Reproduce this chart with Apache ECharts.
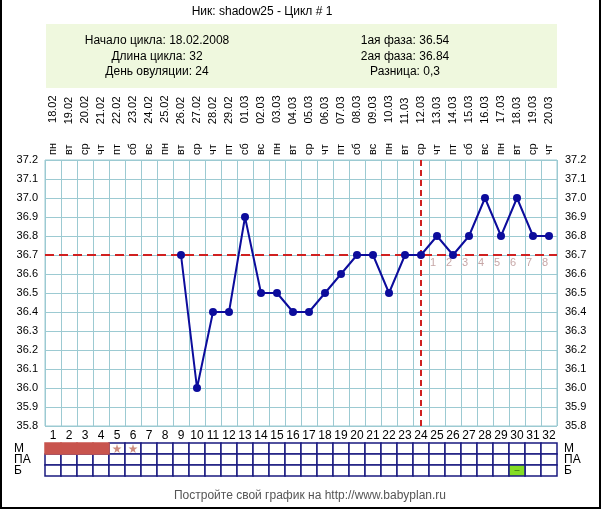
<!DOCTYPE html>
<html><head><meta charset="utf-8">
<script src="https://cdn.jsdelivr.net/npm/echarts@6/dist/echarts.min.js"></script>
<style>html,body{margin:0;padding:0;background:#fff}#c{width:602px;height:510px}</style>
</head><body><div id="c"></div>
<script>
const days = ['1','2','3','4','5','6','7','8','9','10','11','12','13','14','15','16','17','18','19','20','21','22','23','24','25','26','27','28','29','30','31','32'];
const dates = ['18.02','19.02','20.02','21.02','22.02','23.02','24.02','25.02','26.02','27.02','28.02','29.02','01.03','02.03','03.03','04.03','05.03','06.03','07.03','08.03','09.03','10.03','11.03','12.03','13.03','14.03','15.03','16.03','17.03','18.03','19.03','20.03'];
const weekdays = ['пн','вт','ср','чт','пт','сб','вс','пн','вт','ср','чт','пт','сб','вс','пн','вт','ср','чт','пт','сб','вс','пн','вт','ср','чт','пт','сб','вс','пн','вт','ср','чт'];
const temps = [null,null,null,null,null,null,null,null,36.7,36.0,36.4,36.4,36.9,36.5,36.5,36.4,36.4,36.5,36.6,36.7,36.7,36.5,36.7,36.7,36.8,36.7,36.8,37.0,36.8,37.0,36.8,36.8];
const coverLine = 36.7;
const ovulationDay = '24';
const phaseDays = ['25','26','27','28','29','30','31','32'];
const phaseLabels = ['1','2','3','4','5','6','7','8'];
const yTicks = [35.8,37.2,0.1];
const tableRows = ['Б','ПА','М'];
const mensesDays = ['1','2','3','4'];
const spottingDays = ['5','6'];
const paDays = ['6','7','8','9','10','11','12','13','14','15','16','17','18','19','20','21','22','23','24','25','26','27','28','29','30','31'];
const bDays = ['30'];
const infoLeft = ['Начало цикла: 18.02.2008','Длина цикла: 32','День овуляции: 24'];
const infoRight = ['1ая фаза: 36.54','2ая фаза: 36.84','Разница: 0,3'];
const titleText = 'Ник: shadow25 - Цикл # 1';
const footerText = 'Постройте свой график на http://www.babyplan.ru';

const FONT = '"Liberation Sans", Arial, sans-serif';
const GRIDC = '#9ccad2';
const NAVY = '#1a1a80';

const cells = [];
days.forEach(d => {
  cells.push([d, 'М', mensesDays.includes(d) ? 1 : 0]);
  cells.push([d, 'ПА', 0]);
  cells.push([d, 'Б', bDays.includes(d) ? 2 : 0]);
});

const chart = echarts.init(document.getElementById('c'), null, {renderer:'canvas'});
const graphics = [
  {type:'rect', shape:{x:46,y:24,width:511,height:64}, style:{fill:'#eff8de'}, z:0},
  {type:'text', x:262, y:12, style:{text:titleText, font:'12px '+FONT, fill:'#000', textAlign:'center', textVerticalAlign:'middle'}},
  {type:'text', x:310, y:496, style:{text:footerText, font:'12px '+FONT, fill:'#555', textAlign:'center', textVerticalAlign:'middle'}},
  {type:'polyline', shape:{points:[[1,0],[1,508],[600,508],[600,0]]}, style:{stroke:'#000', lineWidth:2, fill:null}}
];
infoLeft.forEach((t,i)=>graphics.push({type:'text', x:157, y:41+i*15.5, style:{text:t, font:'12px '+FONT, fill:'#000', textAlign:'center', textVerticalAlign:'middle'}}));
infoRight.forEach((t,i)=>graphics.push({type:'text', x:405, y:41+i*15.5, style:{text:t, font:'12px '+FONT, fill:'#000', textAlign:'center', textVerticalAlign:'middle'}}));

const starPath = 'path://M50,0 L61,35 L98,35 L68,57 L79,91 L50,70 L21,91 L32,57 L2,35 L39,35 Z';

chart.setOption({
  animation:false,
  textStyle:{fontFamily:FONT},
  graphic: graphics,
  grid:[
    {left:45, right:45, top:160, height:266, show:true, borderColor:GRIDC, borderWidth:1},
    {left:45, right:45, top:443, height:33}
  ],
  xAxis:[
    {type:'category', gridIndex:0, data:days, boundaryGap:true, position:'bottom',
     axisLine:{show:false}, axisTick:{show:false},
     axisLabel:{color:'#000', fontSize:12, margin:4, interval:0, fontFamily:FONT},
     splitLine:{show:true, interval:0, lineStyle:{color:GRIDC, width:1}}},
    {type:'category', gridIndex:0, data:days, boundaryGap:true, position:'top',
     axisLine:{show:false}, axisTick:{show:false},
     axisLabel:{color:'#000', fontSize:11, margin:5, interval:0, rotate:-90, fontFamily:FONT,
       formatter:(v,i)=>'{w|'+weekdays[i]+'}{d|'+dates[i]+'}',
       rich:{w:{fontSize:11, fontFamily:FONT, color:'#000'}, d:{fontSize:11, fontFamily:FONT, color:'#000', padding:[0,0,0,20]}}}},
    {type:'category', gridIndex:1, data:days, boundaryGap:true,
     axisLine:{show:false}, axisTick:{show:false}, axisLabel:{show:false}, splitLine:{show:false}}
  ],
  yAxis:[
    {type:'value', gridIndex:0, min:yTicks[0], max:yTicks[1], interval:yTicks[2], position:'left',
     axisLine:{show:false}, axisTick:{show:false},
     axisLabel:{color:'#000', fontSize:11, margin:7, formatter:v=>v.toFixed(1), fontFamily:FONT},
     splitLine:{show:true, lineStyle:{color:GRIDC, width:1}}},
    {type:'value', gridIndex:0, min:yTicks[0], max:yTicks[1], interval:yTicks[2], position:'right',
     axisLine:{show:false}, axisTick:{show:false},
     axisLabel:{color:'#000', fontSize:11, margin:8, formatter:v=>v.toFixed(1), fontFamily:FONT},
     splitLine:{show:false}},
    {type:'category', gridIndex:1, data:tableRows, position:'left',
     axisLine:{show:false}, axisTick:{show:false}, splitLine:{show:false},
     axisLabel:{color:'#000', fontSize:12, margin:31, align:'left', interval:0, fontFamily:FONT}},
    {type:'category', gridIndex:1, data:tableRows, position:'right',
     axisLine:{show:false}, axisTick:{show:false}, splitLine:{show:false},
     axisLabel:{color:'#000', fontSize:12, margin:7, align:'left', interval:0, fontFamily:FONT}}
  ],
  series:[
    {type:'line', xAxisIndex:0, yAxisIndex:0, data:temps, connectNulls:false,
     symbol:'circle', symbolSize:8, showSymbol:true,
     lineStyle:{color:'#0c0c9c', width:2}, itemStyle:{color:'#0c0c9c'}, z:5,
     markLine:{silent:true, symbol:'none', label:{show:false},
       data:[
         {yAxis:coverLine, lineStyle:{color:'#d02020', type:[9,5], width:2}},
         {xAxis:ovulationDay, lineStyle:{color:'#d02020', type:[6,4], width:2}}
       ]}},
    {type:'scatter', xAxisIndex:0, yAxisIndex:0, symbolSize:0, z:4,
     data:phaseDays.map((d,i)=>({value:[d,coverLine], name:phaseLabels[i]})),
     label:{show:true, position:'inside', offset:[-4,8], formatter:p=>p.name, color:'#b89090', fontSize:11, fontFamily:FONT}},
    {type:'custom', xAxisIndex:2, yAxisIndex:2, data:cells, z:2,
     renderItem:(params, api)=>{
       const p = api.coord([api.value(0), api.value(1)]);
       const s = api.size([1,1]);
       const k = api.value(2);
       const fill = k===1 ? '#c8544e' : (k===2 ? '#84dc24' : '#fff');
       const stroke = k===1 ? '#c8544e' : NAVY;
       return {type:'rect', shape:{x:p[0]-s[0]/2, y:p[1]-s[1]/2, width:s[0], height:s[1]},
         style:{fill:fill, stroke:stroke, lineWidth:1.5}, z2: k ? 2 : 1};
     }},
    {type:'scatter', xAxisIndex:2, yAxisIndex:2, symbol:starPath, symbolSize:9, z:3,
     itemStyle:{color:'#c07060'}, data:spottingDays.map(d=>[d,'М'])},
    {type:'scatter', xAxisIndex:2, yAxisIndex:2, symbol:'emptyCircle', symbolSize:5, z:3,
     itemStyle:{color:'#fff', borderColor:'#c07070', borderWidth:1}, data:paDays.map(d=>[d,'ПА'])},
    {type:'scatter', xAxisIndex:2, yAxisIndex:2, symbol:'rect', symbolSize:[5,1], z:3,
     itemStyle:{color:'#3c7a10'}, data:bDays.map(d=>[d,'Б'])}
  ]
});
</script></body></html>
